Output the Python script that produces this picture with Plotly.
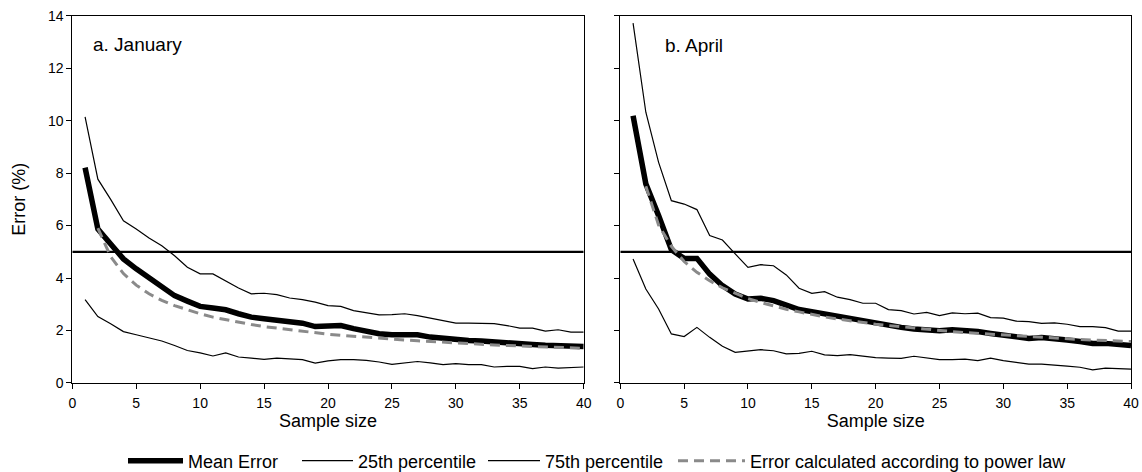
import plotly.graph_objects as go

n = list(range(1, 41))
n_pl = list(range(2, 41))

jan_mean = [8.21, 5.87, 5.30, 4.73, 4.35, 4.03, 3.71, 3.33, 3.12, 2.92,
            2.86, 2.79, 2.64, 2.51, 2.45, 2.38, 2.34, 2.28, 2.15, 2.15,
            2.19, 2.07, 1.96, 1.88, 1.84, 1.84, 1.84, 1.75, 1.69, 1.65,
            1.62, 1.60, 1.58, 1.55, 1.50, 1.47, 1.44, 1.43, 1.41, 1.39]
jan_p25 = [3.18, 2.53, 2.26, 1.96, 1.84, 1.72, 1.60, 1.43, 1.24, 1.15,
           1.03, 1.15, 0.99, 0.95, 0.90, 0.95, 0.93, 0.89, 0.76, 0.84,
           0.89, 0.89, 0.86, 0.80, 0.71, 0.77, 0.82, 0.77, 0.70, 0.74,
           0.70, 0.70, 0.61, 0.63, 0.63, 0.55, 0.61, 0.57, 0.58, 0.61]
jan_p75 = [10.14, 7.77, 7.00, 6.18, 5.87, 5.53, 5.23, 4.85, 4.41, 4.16,
           4.16, 3.90, 3.62, 3.40, 3.42, 3.37, 3.24, 3.18, 3.08, 2.95,
           2.92, 2.76, 2.67, 2.60, 2.61, 2.64, 2.57, 2.47, 2.38, 2.28,
           2.28, 2.26, 2.26, 2.19, 2.09, 2.09, 1.98, 2.03, 1.94, 1.94]
jan_pl = [5.90, 4.82, 4.17, 3.73, 3.40, 3.15, 2.95, 2.78, 2.64, 2.51,
          2.41, 2.31, 2.23, 2.15, 2.09, 2.02, 1.97, 1.91, 1.86, 1.82,
          1.78, 1.74, 1.70, 1.67, 1.64, 1.61, 1.58, 1.55, 1.52, 1.50,
          1.47, 1.45, 1.43, 1.41, 1.39, 1.37, 1.35, 1.34, 1.32]

apr_mean = [10.19, 7.59, 6.38, 5.08, 4.75, 4.75, 4.15, 3.71, 3.39, 3.20,
            3.23, 3.14, 2.97, 2.80, 2.72, 2.63, 2.54, 2.44, 2.34, 2.25,
            2.19, 2.12, 2.06, 2.02, 1.99, 2.03, 2.02, 1.96, 1.89, 1.83,
            1.77, 1.70, 1.73, 1.70, 1.64, 1.58, 1.51, 1.51, 1.47, 1.43]
apr_p25 = [4.73, 3.58, 2.82, 1.87, 1.77, 2.12, 1.74, 1.40, 1.17, 1.23,
           1.27, 1.23, 1.11, 1.13, 1.21, 1.07, 1.04, 1.08, 1.02, 0.97,
           0.95, 0.94, 1.02, 0.95, 0.89, 0.89, 0.91, 0.85, 0.95, 0.85,
           0.79, 0.72, 0.72, 0.69, 0.64, 0.60, 0.50, 0.57, 0.56, 0.53]
apr_p75 = [13.72, 10.32, 8.41, 6.95, 6.82, 6.61, 5.62, 5.45, 4.92, 4.41,
           4.51, 4.47, 4.12, 3.61, 3.42, 3.48, 3.27, 3.18, 3.04, 3.04,
           2.80, 2.76, 2.63, 2.69, 2.57, 2.67, 2.64, 2.66, 2.49, 2.47,
           2.36, 2.34, 2.27, 2.29, 2.24, 2.15, 2.15, 2.11, 1.98, 1.98]
apr_pl = [7.50, 6.02, 5.21, 4.63, 4.22, 3.90, 3.63, 3.42, 3.22, 3.07,
          2.94, 2.81, 2.71, 2.61, 2.52, 2.44, 2.37, 2.31, 2.24, 2.19,
          2.14, 2.09, 2.04, 2.00, 1.96, 1.92, 1.89, 1.85, 1.82, 1.79,
          1.76, 1.74, 1.71, 1.69, 1.66, 1.64, 1.62, 1.60, 1.58]

threshold = 5
x_range = [0, 40]
panel_labels = ["a. January", "b. April"]
legend_names = ["Mean Error", "25th percentile", "75th percentile",
                "Error calculated according to power law"]

FONT = "Liberation Sans, Arial, sans-serif"
fig = go.Figure()

panels = [(jan_mean, jan_p25, jan_p75, jan_pl, "x", "y"),
          (apr_mean, apr_p25, apr_p75, apr_pl, "x2", "y2")]

for i, (m, p25, p75, pl, xa, ya) in enumerate(panels):
    show = i == 0
    fig.add_trace(go.Scatter(x=x_range, y=[threshold, threshold], mode="lines",
                             line=dict(color="black", width=2.2), showlegend=False,
                             xaxis=xa, yaxis=ya, hoverinfo="skip"))
    fig.add_trace(go.Scatter(x=n, y=p25, mode="lines", name=legend_names[1],
                             line=dict(color="black", width=1.2), showlegend=show,
                             legend="legend2", xaxis=xa, yaxis=ya))
    fig.add_trace(go.Scatter(x=n, y=p75, mode="lines", name=legend_names[2],
                             line=dict(color="black", width=1.2), showlegend=show,
                             legend="legend3", xaxis=xa, yaxis=ya))
    fig.add_trace(go.Scatter(x=n, y=m, mode="lines", name=legend_names[0],
                             line=dict(color="black", width=5.5), showlegend=show,
                             legend="legend", xaxis=xa, yaxis=ya))
    fig.add_trace(go.Scatter(x=n_pl, y=pl, mode="lines", name=legend_names[3],
                             line=dict(color="#8a8a8a", width=3, dash="10px,6px"),
                             showlegend=show, legend="legend4", xaxis=xa, yaxis=ya))

axis_common = dict(showline=True, linecolor="black", linewidth=1, mirror=True,
                   ticks="outside", ticklen=5, tickwidth=1, tickcolor="black",
                   showgrid=False, zeroline=False,
                   tickfont=dict(family=FONT, size=14, color="black"))

TITLE_FONT = dict(family=FONT, size=18, color="black")
LEG_FONT = dict(family=FONT, size=18, color="black")


def leg(x_px, itemw):
    return dict(orientation="h", x=x_px / 1142, y=0.0233, xanchor="left",
                yanchor="middle", font=LEG_FONT, itemwidth=itemw,
                bgcolor="rgba(0,0,0,0)", borderwidth=0)


ydom = [0.18856, 0.96674]
fig.update_layout(
    width=1142, height=472,
    margin=dict(l=0, r=0, t=0, b=0, autoexpand=False),
    plot_bgcolor="white", paper_bgcolor="white",
    font=dict(family=FONT, size=14, color="black"),
    xaxis=dict(domain=[0.06331, 0.51112], range=x_range, dtick=5, ticklabelstandoff=2,
               title=dict(text="Sample size", font=TITLE_FONT, standoff=3),
               **axis_common),
    xaxis2=dict(domain=[0.54317, 0.99037], range=x_range, dtick=5, anchor="y2",
                ticklabelstandoff=2,
                title=dict(text="Sample size", font=TITLE_FONT, standoff=3),
                **axis_common),
    yaxis=dict(domain=ydom, range=[0, 14], dtick=2,
               title=dict(text="Error (%)", font=TITLE_FONT, standoff=17),
               **axis_common),
    yaxis2=dict(domain=ydom, range=[0, 14], dtick=2, anchor="x2", showticklabels=False,
                **axis_common),
    legend=leg(123, 55),
    legend2=leg(297, 51),
    legend3=leg(483, 52),
    legend4=leg(673, 67),
    annotations=[
        dict(text=panel_labels[0], x=1.5, y=12.9, xref="x", yref="y",
             xanchor="left", yanchor="middle", showarrow=False,
             font=dict(family=FONT, size=19, color="black")),
        dict(text=panel_labels[1], x=3.35, y=12.85, xref="x2", yref="y2",
             xanchor="left", yanchor="middle", showarrow=False,
             font=dict(family=FONT, size=19, color="black")),
    ],
)

fig.write_html("out.html")
